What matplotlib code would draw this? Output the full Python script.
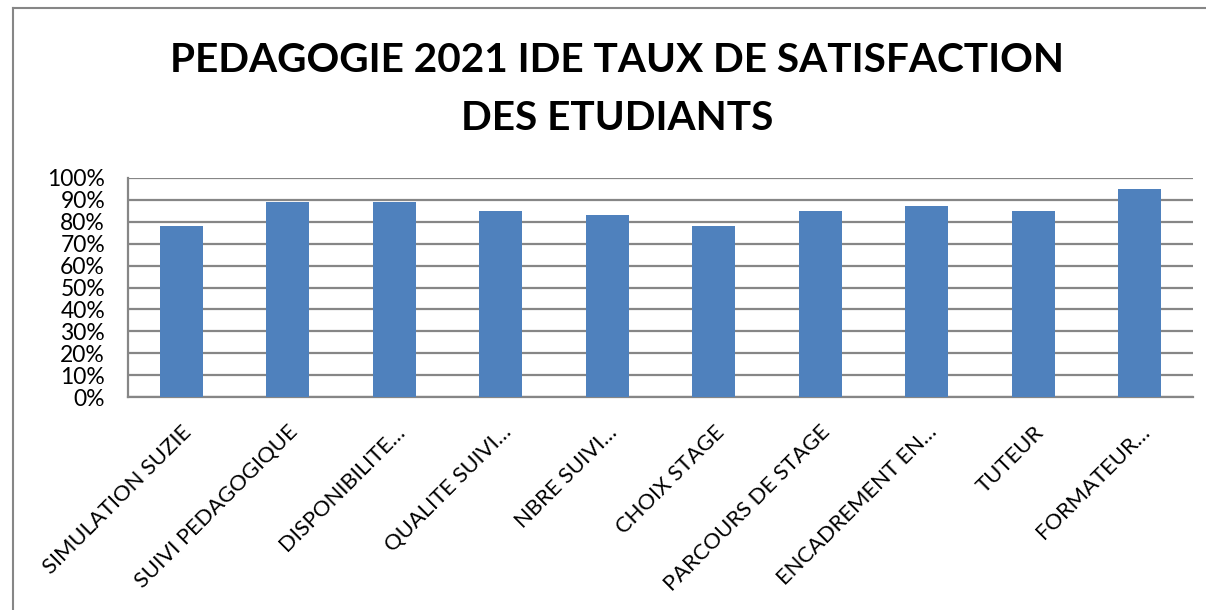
import matplotlib
matplotlib.use("Agg")
import matplotlib.pyplot as plt
from matplotlib.lines import Line2D
from matplotlib.ticker import PercentFormatter, MultipleLocator

categories = ["SIMULATION SUZIE", "SUIVI PEDAGOGIQUE", "DISPONIBILITE…", "QUALITE SUIVI…",
              "NBRE SUIVI…", "CHOIX STAGE", "PARCOURS DE STAGE", "ENCADREMENT EN…",
              "TUTEUR", "FORMATEUR…"]
values = [0.78, 0.89, 0.89, 0.85, 0.83, 0.78, 0.85, 0.87, 0.85, 0.95]
title_lines = ["PEDAGOGIE 2021 IDE TAUX DE SATISFACTION", "DES ETUDIANTS"]

plt.rcParams['font.family'] = ['Lato', 'DejaVu Sans']

W, H = 1206, 610
fig = plt.figure(figsize=(W / 100, H / 100), dpi=100)
fig.patch.set_facecolor("white")

# outer chart border (left and top visible)
fig.add_artist(Line2D([13 / W, 13 / W], [0, 1 - 8 / H], color="#868686", lw=1.5))
fig.add_artist(Line2D([13 / W, 1], [1 - 8 / H, 1 - 8 / H], color="#868686", lw=1.5))

left, right, top, bottom = 128, 1193, 178, 397
ax = fig.add_axes([left / W, 1 - bottom / H, (right - left) / W, (bottom - top) / H])

x = range(len(categories))
ax.bar(x, values, width=0.4, color="#4F81BD", zorder=3)
ax.set_xlim(-0.5, len(categories) - 0.5)
ax.set_ylim(0, 1)
ax.yaxis.set_major_locator(MultipleLocator(0.1))
ax.yaxis.set_major_formatter(PercentFormatter(1.0, decimals=0))
ax.grid(axis="y", color="#868686", lw=1.6, zorder=0)
for s in ["top", "right"]:
    ax.spines[s].set_visible(False)
for s in ["left", "bottom"]:
    ax.spines[s].set_color("#868686")
    ax.spines[s].set_linewidth(1.6)
ax.tick_params(axis="both", length=0, colors="black")
ax.tick_params(axis="y", pad=16.5, labelsize=16.5)
ax.set_xticks(list(x))
ax.set_xticklabels(categories, rotation=45, ha="right", rotation_mode="anchor", fontsize=15.8)
ax.tick_params(axis="x", pad=18)

fig.text(617 / W, 1 - 60 / H, title_lines[0], ha="center", va="center", fontsize=29.2,
         fontweight="bold")
fig.text(617 / W, 1 - 118 / H, title_lines[1], ha="center", va="center", fontsize=29.2,
         fontweight="bold")

fig.savefig("out.png", dpi=100)
